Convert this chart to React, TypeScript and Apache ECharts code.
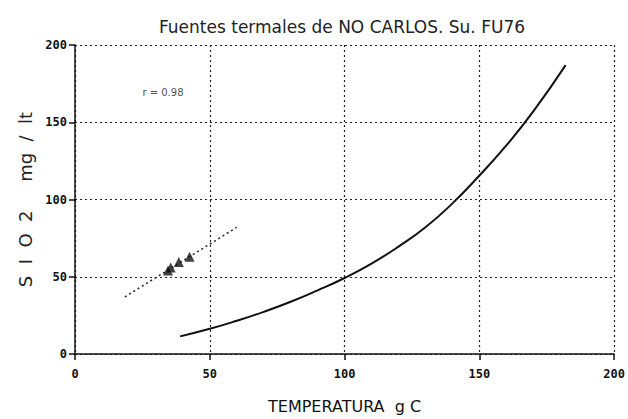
import React, { useEffect, useRef } from "react";
import * as echarts from "echarts";

const xTicks = [0, 50, 100, 150, 200];
const yTicks = [0, 50, 100, 150, 200];

// solubility curve (temperature °C, SiO2 mg/lt)
const curveT = [39, 50, 60, 70, 80, 90, 100, 110, 120, 130, 140, 150, 160, 170, 182];
const curveS = [11.4, 16.3, 21.5, 27.3, 33.8, 41.2, 49.2, 58.5, 69.5, 82, 97.5, 115.5, 135, 157, 187];

// measured springs
const sampleT = [34.5, 35.5, 38.5, 42.5];
const sampleS = [54, 56, 59.5, 63];

// regression line ends
const regT = [18.5, 60];
const regS = [37, 82];

const rLabel = "r = 0.98";
const rPos = [25, 169];

const titleText = "Fuentes termales de NO CARLOS. Su. FU76";
const xName = "TEMPERATURA  g C";
const yName = "S  I  O  2     mg  /  lt";

export default function App() {
  const ref = useRef<HTMLDivElement>(null);
  useEffect(() => {
    if (!ref.current) return;
    const chart = echarts.init(ref.current, null, { renderer: "svg" });
    const mono = "DejaVu Sans Mono";
    chart.setOption({
      animation: false,
      backgroundColor: "#fff",
      title: {
        text: titleText,
        left: 337,
        top: 13,
        textAlign: "center",
        textStyle: { fontFamily: "DejaVu Sans", fontWeight: "normal", fontSize: 17, color: "#222" },
      },
      grid: { left: 75, right: 13, top: 45, bottom: 63 },
      xAxis: {
        type: "value",
        min: xTicks[0],
        max: xTicks[xTicks.length - 1],
        interval: 50,
        name: xName,
        nameLocation: "middle",
        nameGap: 44,
        nameTextStyle: { fontFamily: "DejaVu Sans", fontSize: 16, color: "#111" },
        axisLine: { show: true, onZero: false, lineStyle: { color: "#111", width: 1.5 } },
        axisTick: { show: true, length: 6, lineStyle: { color: "#111", width: 1.5 } },
        axisLabel: { fontFamily: mono, fontWeight: "bold", fontSize: 12, color: "#111", margin: 14 },
        splitLine: { show: true, lineStyle: { type: [2, 3], color: "#222", width: 1.2 } },
      },
      yAxis: {
        type: "value",
        min: yTicks[0],
        max: yTicks[yTicks.length - 1],
        interval: 50,
        name: yName,
        nameLocation: "middle",
        nameGap: 37,
        nameRotate: 90,
        nameTextStyle: { fontFamily: "DejaVu Sans", fontSize: 18, color: "#222" },
        axisLine: { show: true, onZero: false, lineStyle: { color: "#111", width: 1.5 } },
        axisTick: { show: true, length: 6, lineStyle: { color: "#111", width: 1.5 } },
        axisLabel: { fontFamily: mono, fontWeight: "bold", fontSize: 12, color: "#111", margin: 8 },
        splitLine: { show: true, lineStyle: { type: [2, 3], color: "#222", width: 1.2 } },
      },
      series: [
        {
          type: "line",
          data: curveT.map((t, i) => [t, curveS[i]]),
          smooth: true,
          showSymbol: false,
          lineStyle: { color: "#111", width: 2 },
          z: 5,
        },
        {
          type: "line",
          data: regT.map((t, i) => [t, regS[i]]),
          showSymbol: false,
          lineStyle: { color: "#222", width: 1.5, type: [2, 3] },
          z: 4,
        },
        {
          type: "scatter",
          data: sampleT.map((t, i) => [t, sampleS[i]]),
          symbol: "triangle",
          symbolSize: 10,
          itemStyle: { color: "#111" },
          z: 6,
        },
        {
          type: "scatter",
          data: [rPos],
          symbolSize: 0,
          label: {
            show: true,
            position: "right",
            formatter: rLabel,
            fontFamily: "DejaVu Sans",
            fontSize: 10,
            color: "#222",
            offset: [-5, 0],
          },
          silent: true,
        },
      ],
    });
    return () => chart.dispose();
  }, []);
  return (
    <div
      ref={ref}
      style={{ position: "fixed", left: 0, top: 0, width: 628, height: 419, background: "#fff" }}
    />
  );
}
